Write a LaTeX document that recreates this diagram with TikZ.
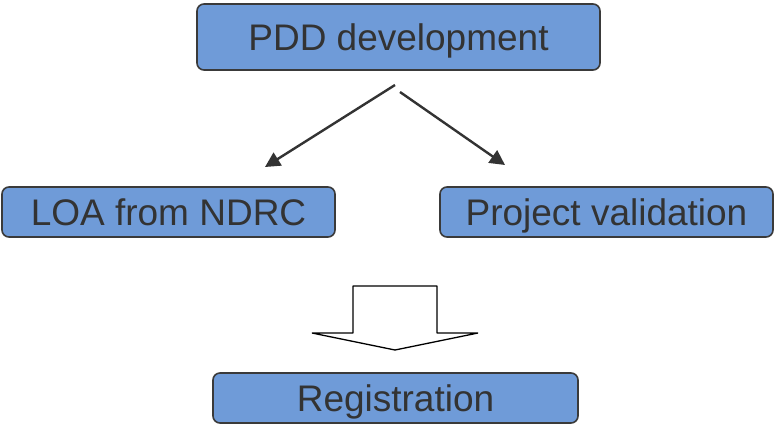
\documentclass[tikz,border=0pt]{standalone}
\usepackage{fontspec}
\setmainfont{Liberation Sans}
\usetikzlibrary{arrows.meta}
\usepackage{xcolor}
\definecolor{boxfill}{HTML}{6F9BD8}
\definecolor{boxline}{HTML}{3A3A3A}
\definecolor{txt}{HTML}{333333}

\begin{document}
\begin{tikzpicture}[x=1pt, y=-1pt,
    stage/.style={draw=boxline, line width=1.6pt, fill=boxfill, rounded corners=7pt, inner sep=0pt, text=txt, text height=26.5pt, text depth=0pt, font=\fontsize{37}{40}\selectfont},
    flow/.style={draw=txt, line width=2.4pt, -{Triangle[length=15pt, width=15pt]}}]
    \useasboundingbox (0,0) rectangle (775,424);
    \node[stage, minimum width=403pt, minimum height=66pt] (pdd) at (398.5,37) {PDD development};
    \node[stage, minimum width=333pt, minimum height=50pt] (loa) at (168.5,212) {LOA from NDRC};
    \node[stage, minimum width=333pt, minimum height=50pt] (val) at (606.5,212) {Project validation};
    \node[stage, minimum width=365pt, minimum height=50pt] (reg) at (395.5,398) {Registration};
    \coordinate (l0) at (395,85);
    \coordinate (l1) at (265,167);
    \coordinate (r0) at (400,92);
    \coordinate (r1) at (505,165);
        \draw[flow] (l0) -- (l1);
        \draw[flow] (r0) -- (r1);
    % block arrow down to registration
    \draw[line width=1.3pt, line join=bevel, fill=white] (353,286) -- (437,286) -- (437,333) -- (478,333)
        -- (395,350) -- (312,333) -- (353,333) -- cycle;
\end{tikzpicture}
\end{document}
